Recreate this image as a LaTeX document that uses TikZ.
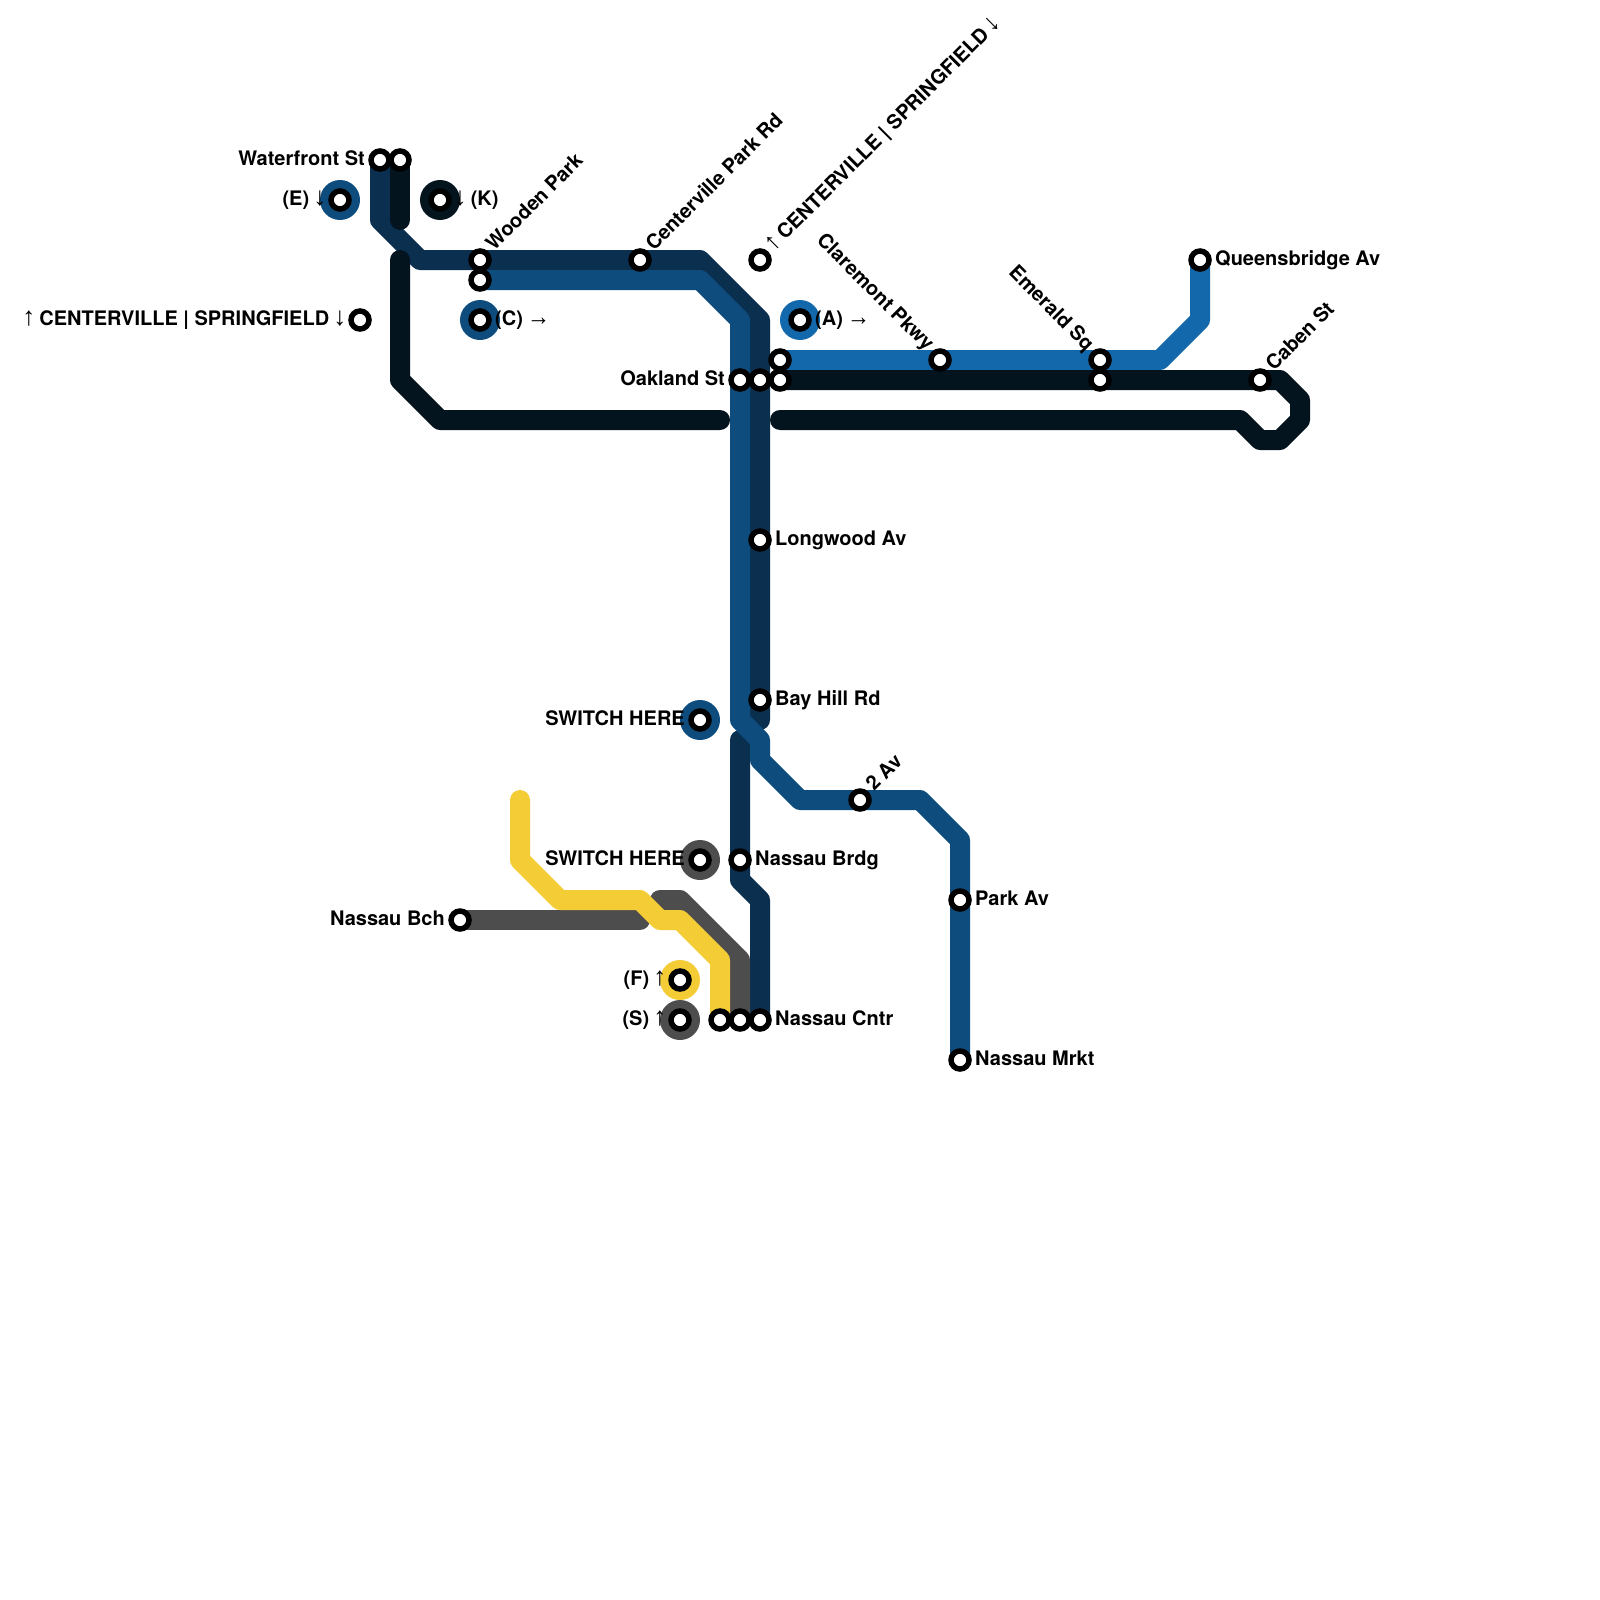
\documentclass[tikz,border=0pt]{standalone}
\usepackage{fontspec}
\setmainfont{TeX Gyre Heros}
\newfontfamily\arwfont{Liberation Serif}
\newcommand{\arw}[1]{\makebox[10pt][c]{\scalebox{1.3}{\arwfont\mdseries #1}}}
\newcommand{\arh}[1]{\makebox[20pt][c]{\scalebox{1.15}[1.3]{\arwfont\mdseries #1}}}
\usetikzlibrary{calc}
\definecolor{rnavy}{HTML}{0A2F4F}
\definecolor{rblue}{HTML}{0D4C7D}
\definecolor{rsky}{HTML}{1268AB}
\definecolor{rink}{HTML}{04141F}
\definecolor{rgrey}{HTML}{4D4D4D}
\definecolor{ryellow}{HTML}{F4CC35}
\tikzset{
  route/.style={draw=#1,line width=20pt,line cap=round,line join=round},
  stn/.style={circle,draw=black,fill=white,line width=5.5pt,minimum size=18pt,outer sep=0pt,inner sep=0pt},
  hub/.style={circle,fill=#1,minimum size=40pt,outer sep=0pt,inner sep=0pt},
  lbl/.style={inner sep=0pt,font=\fontsize{20}{24}\bfseries\selectfont,text=black},
  lblr/.style={lbl,anchor=base west},
  lbll/.style={lbl,anchor=base east},
  lblu/.style={lbl,anchor=base west,rotate=45},
  lbld/.style={lbl,anchor=base east,rotate=-45},
}
\newcommand{\rtxt}[3]{\node[lblr] (#1t) at ($(#1)+(15,5)$) {#3};}
\begin{document}
\begin{tikzpicture}[x=1pt,y=-1pt]
\useasboundingbox[fill=white] (0,0) rectangle (1600,1600);
% way points
\foreach \x/\y in {380/160,380/220,420/260,700/260,760/320,760/720,740/740,740/880,760/900,760/1020,
  480/280,700/280,740/320,740/720,760/740,760/760,800/800,920/800,960/840,960/1060,
  780/360,1160/360,1200/320,1200/260,
  400/160,400/220,400/260,400/380,440/420,720/420,780/420,1240/420,1260/440,1280/440,1300/420,1300/400,1280/380,780/380,
  460/920,640/920,660/900,680/900,740/960,740/1020,
  520/800,520/860,560/900,640/900,660/920,680/920,720/960,720/1020}
  {\coordinate (p\x-\y) at (\x,\y);}
% routes
\draw[route=rnavy] (p380-160) -- (p380-220) -- (p420-260) -- (p700-260) -- (p760-320) -- (p760-720);
\draw[route=rnavy] (p740-740) -- (p740-880) -- (p760-900) -- (p760-1020);
\draw[route=rblue] (p480-280) -- (p700-280) -- (p740-320) -- (p740-720) -- (p760-740) -- (p760-760) -- (p800-800) -- (p920-800) -- (p960-840) -- (p960-1060);
\draw[route=rsky] (p780-360) -- (p1160-360) -- (p1200-320) -- (p1200-260);
\draw[route=rink] (p400-160) -- (p400-220);
\draw[route=rink] (p400-260) -- (p400-380) -- (p440-420) -- (p720-420);
\draw[route=rink] (p780-420) -- (p1240-420) -- (p1260-440) -- (p1280-440) -- (p1300-420) -- (p1300-400) -- (p1280-380) -- (p780-380);
\draw[route=rgrey] (p460-920) -- (p640-920);
\draw[route=rgrey] (p660-900) -- (p680-900) -- (p740-960) -- (p740-1020);
\draw[route=ryellow] (p520-800) -- (p520-860) -- (p560-900) -- (p640-900) -- (p660-920) -- (p680-920) -- (p720-960) -- (p720-1020);
% transfer discs
\node[hub=rblue] (hE) at (340,200) {};
\node[hub=rink] (hK) at (440,200) {};
\node[hub=rblue] (hC) at (480,320) {};
\node[hub=rsky] (hA) at (800,320) {};
\node[hub=rblue] (hS1) at (700,720) {};
\node[hub=rgrey] (hS2) at (700,860) {};
\node[hub=ryellow] (hF) at (680,980) {};
\node[hub=rgrey] (hS) at (680,1020) {};
% stations
\foreach \n/\p in {waterfront/{380,160},wf2/{400,160},sE/{340,200},sK/{440,200},wooden/{480,260},wood2/{480,280},
  cpark/{640,260},cs1/{760,260},cs2/{360,320},sC/{480,320},sA/{800,320},a1/{780,360},a2/{780,380},
  oak/{740,380},oak2/{760,380},clare/{940,360},emer/{1100,360},emer2/{1100,380},queens/{1200,260},caben/{1260,380},
  longw/{760,540},bay/{760,700},sw1/{700,720},av2/{860,800},sw2/{700,860},nbr/{740,860},park/{960,900},
  mrkt/{960,1060},nbch/{460,920},sF/{680,980},sS/{680,1020},nc1/{720,1020},nc2/{740,1020},ncntr/{760,1020}}
  {\node[stn] (\n) at (\p) {};}
% labels
\node[lbll] (twaterfront) at ($(waterfront)+(-15,5)$) {Waterfront St};
\node[lbll] (tE) at ($(sE)+(-15,5)$) {(E) \arw{↓}};
\rtxt{sK}{}{\arw{↓} (K)}
\node[lblu] (twooden) at ($(wooden)+(14,-8)$) {Wooden Park};
\node[lblu] (tcpark) at ($(cpark)+(14,-8)$) {Centerville Park Rd};
\node[lblu] (tcs1) at ($(cs1)+(14,-8)$) {\arw{↑} CENTERVILLE | SPRINGFIELD \arw{↓}};
\node[lbll] (tcs2) at ($(cs2)+(-15,5)$) {\arw{↑} CENTERVILLE | SPRINGFIELD \arw{↓}};
\rtxt{sC}{}{(C) \arh{→}}
\rtxt{sA}{}{(A) \arh{→}}
\node[lbld] (tclare) at ($(clare)+(-14,-8)$) {Claremont Pkwy};
\node[lbld] (temer) at ($(emer)+(-14,-8)$) {Emerald Sq};
\rtxt{queens}{}{Queensbridge Av}
\node[lblu] (tcaben) at ($(caben)+(14,-8)$) {Caben St};
\node[lbll] (toak) at ($(oak)+(-15,5)$) {Oakland St};
\rtxt{longw}{}{Longwood Av}
\rtxt{bay}{}{Bay Hill Rd}
\node[lbll] (tsw1) at ($(sw1)+(-15,5)$) {SWITCH HERE};
\node[lblu] (tav2) at ($(av2)+(14,-8)$) {2 Av};
\node[lbll] (tsw2) at ($(sw2)+(-15,5)$) {SWITCH HERE};
\rtxt{nbr}{}{Nassau Brdg}
\rtxt{park}{}{Park Av}
\rtxt{mrkt}{}{Nassau Mrkt}
\node[lbll] (tnbch) at ($(nbch)+(-15,5)$) {Nassau Bch};
\node[lbll] (tF) at ($(sF)+(-15,5)$) {(F) \arw{↑}};
\node[lbll] (tS) at ($(sS)+(-15,5)$) {(S) \arw{↑}};
\rtxt{ncntr}{}{Nassau Cntr}
\end{tikzpicture}
\end{document}
